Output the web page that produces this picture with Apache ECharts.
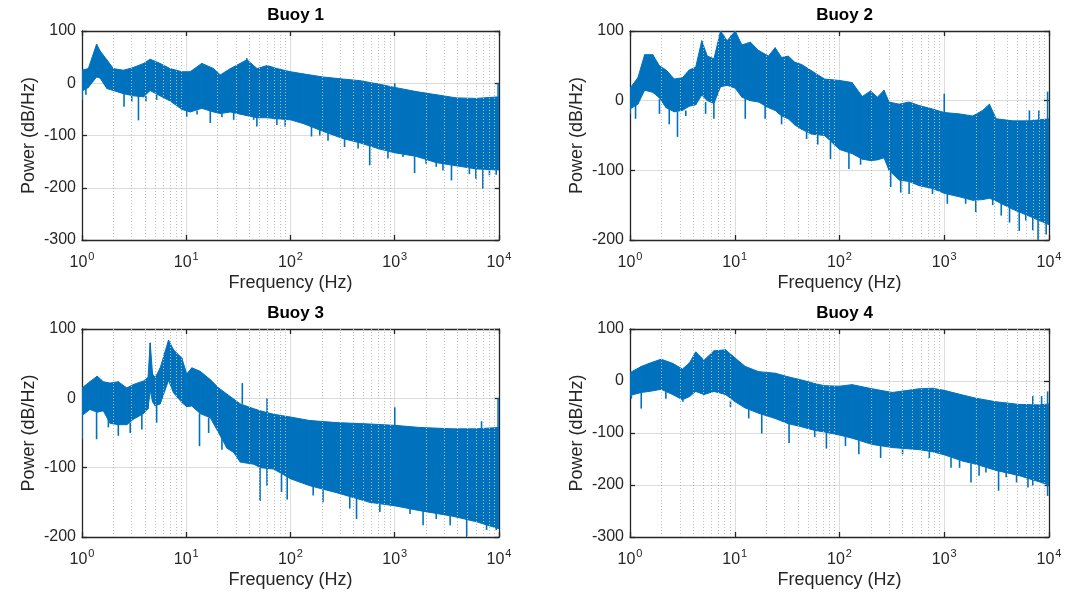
<!DOCTYPE html>
<html>
<head>
<meta charset="utf-8">
<script src="https://cdn.jsdelivr.net/npm/echarts@6/dist/echarts.min.js"></script>
<style>
  html, body { margin: 0; padding: 0; background: #ffffff; }
  #chart { width: 1084px; height: 596px; }
</style>
</head>
<body>
<div id="chart"></div>
<script>
// Power spectral density of four buoys (log frequency axis)
const panelTitles = ['Buoy 1', 'Buoy 2', 'Buoy 3', 'Buoy 4'];
const yMins = [-300, -200, -200, -300];
const yMaxs = [100, 100, 100, 100];
const freqMin = 1;
const freqMax = 10000;
const minorFreqs = [2, 3, 4, 5, 6, 7, 8, 9, 20, 30, 40, 50, 60, 70, 80, 90,
  200, 300, 400, 500, 600, 700, 800, 900, 2000, 3000, 4000, 5000, 6000, 7000, 8000, 9000];

// Buoy 1: band envelope (upper / lower edge of the spectrum) and isolated spikes [f, from, to]
const b1Freq = [1.0, 1.15, 1.38, 1.49, 1.73, 2.0, 2.5, 3.1, 3.9, 4.5, 5.6, 7.0, 9.1, 10.9, 14.1, 18.3, 21.2, 26.5, 38.3, 47.8, 59.7, 74.4, 100, 132, 205, 320, 462, 718, 1000, 1610, 2510, 3900, 6070, 10000];
const b1Upper = [25, 28, 75, 62, 45, 28, 25, 30, 38, 46, 38, 28, 22, 22, 38, 28, 16, 28, 45, 28, 34, 28, 22, 18, 12, 8, 5, -2, -8, -16, -22, -28, -29, -26];
const b1Lower = [-15, -8, 12, 10, -10, -14, -20, -24, -26, -14, -24, -34, -50, -55, -48, -55, -58, -55, -62, -66, -66, -68, -70, -77, -92, -106, -114, -126, -133, -140, -152, -158, -164, -166];
const b1Spikes = [[1.0, -10, -32], [1.09, -5, -22], [2.53, -18, -45], [3.0, -22, -35], [3.48, -24, -71], [4.1, -24, -35],
  [5.2, -22, -32], [10.1, -53, -64], [12.7, -52, -60], [17, -50, -76], [22, -58, -65], [28.5, -55, -70], [44.3, -63, -70],
  [47.6, -64, -83], [74, -68, -80], [89, -70, -83], [159, -80, -102], [191, -88, -100], [229, -95, -110],
  [330, -106, -122], [445, -113, -125], [575, -120, -157], [860, -130, -144], [1200, -135, -141], [1550, -140, -172],
  [2000, -145, -154], [2500, -152, -160], [2900, -154, -167], [3500, -156, -186], [5200, -162, -174], [6000, -163, -183],
  [7000, -165, -202], [8100, -165, -176], [9400, -166, -175],
  [38, 40, 48], [1000, -10, 0], [9800, -26, 0]];

// Buoy 2
const b2Freq = [1.0, 1.19, 1.38, 1.65, 1.91, 2.21, 2.65, 3.17, 3.67, 4.24, 4.84, 5.47, 6.33, 7.32, 8.46, 10.1, 11.7, 14.1, 16.9, 21, 24.3, 28, 32.4, 37.5, 43.4, 54, 72, 100, 132, 165, 198, 230, 266, 297, 371, 462, 576, 772, 1000, 1393, 1870, 2330, 2700, 3130, 4520, 6530, 10000];
const b2Upper = [18, 33, 66, 66, 50, 44, 31, 33, 44, 48, 86, 64, 60, 100, 86, 100, 80, 84, 72, 64, 76, 62, 64, 55, 52, 43, 31, 29, 26, 6, 14, 5, 15, -2, -5, -2, -7, -12, -17, -19, -22, -14, -5, -26, -29, -29, -26];
const b2Lower = [-12, -5, 15, 12, 4, -10, -16, -14, -8, -6, 8, 0, -4, 20, 22, 18, 5, 0, -2, -10, -14, -22, -26, -35, -41, -48, -50, -70, -76, -84, -86, -85, -82, -100, -114, -116, -122, -126, -133, -138, -143, -142, -140, -144, -156, -166, -178];
const b2Spikes = [[1.0, -12, -19], [1.13, -6, -26], [1.91, 2, -19], [2.37, -12, -34], [2.84, -16, -52], [3.41, -14, -22],
  [5.27, -2, -19], [6.32, -4, -26], [12.6, 4, -26], [19.5, -6, -26], [28, -22, -34], [48.5, -45, -55], [62, -49, -63],
  [82, -55, -84], [123, -74, -98], [159, -82, -92], [308, -102, -124], [384, -114, -132], [462, -116, -134],
  [772, -126, -134], [1070, -134, -148], [1600, -140, -148], [2000, -143, -160], [2900, -142, -150], [3500, -146, -165],
  [4200, -152, -175], [5200, -158, -187], [6000, -163, -172], [7000, -166, -186], [7860, -170, -200], [9400, -175, -192],
  [1000, -17, 10], [9700, -26, 13], [6500, -29, -14], [8000, -28, -14]];

// Buoy 3
const b3Freq = [1.0, 1.19, 1.40, 1.60, 1.86, 2.23, 2.69, 3.12, 3.89, 4.3, 4.51, 4.75, 5.04, 5.63, 6.76, 7.55, 9.08, 10.1, 11.3, 13.6, 17.0, 20.5, 24.6, 28.5, 33.0, 44.4, 51.4, 69.0, 100, 153, 276, 576, 1000, 1740, 3600, 6070, 10000];
const b3Upper = [15, 24, 32, 24, 22, 24, 15, 20, 25, 30, 80, 35, 30, 44, 84, 70, 58, 35, 44, 39, 27, 15, 6, -1, -8, -15, -18, -23, -27, -32, -35, -37, -39, -42, -44, -44, -42];
const b3Lower = [-25, -16, -20, -18, -36, -38, -38, -30, -22, -15, 12, -5, -11, -8, 26, 8, -6, -12, -11, -22, -28, -50, -72, -78, -92, -95, -100, -102, -116, -126, -136, -150, -155, -162, -170, -178, -188];
const b3Spikes = [[1.0, -25, -59], [1.38, -20, -59], [1.79, -30, -42], [2.23, -38, -54], [2.9, -35, -50], [3.75, -22, -45],
  [5.2, -11, -35], [13.4, -22, -69], [16.4, -28, -50], [22, -55, -74], [51, -100, -148], [59.5, -100, -126],
  [82, -105, -135], [93, -112, -146], [165, -128, -140], [205, -132, -150], [370, -142, -159], [430, -145, -174],
  [720, -152, -164], [1400, -158, -167], [1870, -162, -183], [2500, -166, -174], [3400, -169, -183], [4900, -170, -200],
  [7600, -182, -190], [9400, -185, -190],
  [34.5, -8, 22], [59.6, -20, 0], [1000, -39, -13], [6800, -44, -33], [9800, -42, 0]];

// Buoy 4
const b4Freq = [1.0, 1.28, 1.53, 1.98, 2.55, 3.17, 3.7, 4.24, 5.09, 6.33, 8.17, 10.1, 12.6, 16.9, 24.3, 32.4, 43.4, 58, 72, 100, 132, 205, 320, 576, 772, 1000, 1500, 2000, 3130, 5200, 8100, 10000];
const b4Upper = [16, 28, 34, 42, 34, 23, 35, 56, 40, 58, 60, 44, 28, 18, 15, 8, 2, -5, -9, -10, -7, -15, -22, -15, -14, -18, -27, -33, -40, -45, -46, -44];
const b4Lower = [-28, -22, -20, -16, -26, -36, -30, -20, -26, -20, -26, -40, -52, -62, -72, -82, -88, -95, -98, -104, -110, -122, -128, -132, -136, -142, -154, -160, -172, -182, -194, -200];
const b4Spikes = [[1.03, -28, -34], [1.28, -22, -53], [2.2, -20, -34], [3.2, -36, -40], [9.1, -38, -50], [13.6, -55, -72],
  [18.1, -62, -101], [33, -82, -119], [58, -95, -108], [75, -98, -130], [114, -107, -125], [153, -112, -141],
  [247, -125, -148], [400, -130, -141], [720, -135, -148], [1160, -145, -167], [1400, -152, -167], [1800, -158, -195],
  [2150, -162, -182], [2500, -165, -176], [3300, -172, -211], [3900, -176, -185], [4900, -180, -195], [6300, -185, -205],
  [7000, -190, -201], [9700, -200, -221],
  [9700, -44, -20], [7000, -46, -29], [8500, -46, -29]];

const panels = [
  { freq: b1Freq, upper: b1Upper, lower: b1Lower, spikes: b1Spikes },
  { freq: b2Freq, upper: b2Upper, lower: b2Lower, spikes: b2Spikes },
  { freq: b3Freq, upper: b3Upper, lower: b3Lower, spikes: b3Spikes },
  { freq: b4Freq, upper: b4Upper, lower: b4Lower, spikes: b4Spikes }
];

const LINE_BLUE = '#0072BD';
const AXIS_DARK = '#262626';
const FONT = '"Liberation Sans", Arial, Helvetica, sans-serif';

const gridBoxes = [
  { left: 82, top: 31, width: 417, height: 209 },
  { left: 630, top: 31, width: 419, height: 209 },
  { left: 82, top: 329, width: 417, height: 208 },
  { left: 630, top: 329, width: 419, height: 208 }
];

// one band segment per pair of neighbouring envelope samples: [f0, f1, hi0, lo0, hi1, lo1]
function bandSegments(p) {
  const out = [];
  for (let k = 0; k < p.freq.length - 1; k++) {
    out.push([p.freq[k], p.freq[k + 1], p.upper[k], p.lower[k], p.upper[k + 1], p.lower[k + 1]]);
  }
  return out;
}

const grids = [], xAxes = [], yAxes = [], titles = [], series = [];

gridBoxes.forEach(function (g, i) {
  grids.push({ left: g.left, top: g.top, width: g.width, height: g.height, containLabel: false });

  titles.push({
    text: panelTitles[i],
    left: g.left + g.width / 2,
    top: g.top - 29,
    textAlign: 'center',
    textStyle: { fontFamily: FONT, fontSize: 17, fontWeight: 'bold', color: '#000000' }
  });

  // bottom frequency axis with 10^n labels
  xAxes.push({
    type: 'log', logBase: 10, gridIndex: i, min: freqMin, max: freqMax, position: 'bottom',
    name: 'Frequency (Hz)', nameLocation: 'middle', nameGap: 34,
    nameTextStyle: { fontFamily: FONT, fontSize: 18, color: AXIS_DARK },
    axisLine: { show: true, onZero: false, lineStyle: { color: AXIS_DARK, width: 1.3 } },
    axisTick: { show: true, inside: true, length: 5, lineStyle: { color: AXIS_DARK, width: 1.3 } },
    axisLabel: {
      margin: 11,
      formatter: function (v) { return '{b|10}{e|' + Math.round(Math.log10(v)) + '}'; },
      rich: {
        b: { fontFamily: FONT, fontSize: 16, color: AXIS_DARK, lineHeight: 20, verticalAlign: 'bottom' },
        e: { fontFamily: FONT, fontSize: 11, color: AXIS_DARK, lineHeight: 12, verticalAlign: 'top', padding: [0, 0, 0, 1] }
      }
    },
    splitLine: { show: true, lineStyle: { color: '#dcdcdc', width: 1 } }
  });
  // top frame edge
  xAxes.push({
    type: 'log', logBase: 10, gridIndex: i, min: freqMin, max: freqMax, position: 'top',
    axisLine: { show: true, onZero: false, lineStyle: { color: AXIS_DARK, width: 1.3 } },
    axisTick: { show: true, inside: true, length: 5, lineStyle: { color: AXIS_DARK, width: 1.3 } },
    axisLabel: { show: false },
    splitLine: { show: false }
  });

  yAxes.push({
    type: 'value', gridIndex: i, min: yMins[i], max: yMaxs[i], interval: 100, position: 'left',
    name: 'Power (dB/Hz)', nameLocation: 'middle', nameGap: 44, nameRotate: 90,
    nameTextStyle: { fontFamily: FONT, fontSize: 18, color: AXIS_DARK },
    axisLine: { show: true, onZero: false, lineStyle: { color: AXIS_DARK, width: 1.3 } },
    axisTick: { show: true, inside: true, length: 5, lineStyle: { color: AXIS_DARK, width: 1.3 } },
    axisLabel: { fontFamily: FONT, fontSize: 16, color: AXIS_DARK, margin: 6 },
    splitLine: { show: true, lineStyle: { color: '#dcdcdc', width: 1 } }
  });
  // right frame edge
  yAxes.push({
    type: 'value', gridIndex: i, min: yMins[i], max: yMaxs[i], interval: 100, position: 'right',
    axisLine: { show: true, onZero: false, lineStyle: { color: AXIS_DARK, width: 1.3 } },
    axisTick: { show: true, inside: true, length: 5, lineStyle: { color: AXIS_DARK, width: 1.3 } },
    axisLabel: { show: false },
    splitLine: { show: false }
  });

  const xi = 2 * i, yi = 2 * i;
  const p = panels[i];

  // dotted minor grid at 2..9 x 10^n
  series.push({
    type: 'line', xAxisIndex: xi, yAxisIndex: yi, data: [], silent: true, z: 1,
    markLine: {
      silent: true, symbol: ['none', 'none'], label: { show: false }, animation: false,
      lineStyle: { color: '#bdbdbd', type: [1, 2], width: 1 },
      emphasis: { disabled: true },
      data: minorFreqs.map(function (f) { return { xAxis: f }; })
    }
  });

  // spectrum band between the lower and upper envelope
  series.push({
    type: 'custom', xAxisIndex: xi, yAxisIndex: yi, data: bandSegments(p), silent: true, z: 3, clip: true,
    encode: { x: [0, 1], y: [2, 3, 4, 5] },
    renderItem: function (params, api) {
      const a = api.coord([api.value(0), api.value(2)]);
      const b = api.coord([api.value(1), api.value(4)]);
      const c = api.coord([api.value(1), api.value(5)]);
      const d = api.coord([api.value(0), api.value(3)]);
      return {
        type: 'polygon',
        shape: { points: [a, b, c, d] },
        style: { fill: LINE_BLUE, stroke: LINE_BLUE, lineWidth: 1, lineJoin: 'round' }
      };
    }
  });

  // narrow spikes poking out of the band
  series.push({
    type: 'custom', xAxisIndex: xi, yAxisIndex: yi, data: p.spikes, silent: true, z: 4, clip: true,
    encode: { x: 0, y: [1, 2] },
    renderItem: function (params, api) {
      const a = api.coord([api.value(0), api.value(1)]);
      const b = api.coord([api.value(0), api.value(2)]);
      return {
        type: 'line',
        shape: { x1: a[0], y1: a[1], x2: b[0], y2: b[1] },
        style: { stroke: LINE_BLUE, lineWidth: 1.6 }
      };
    }
  });
});

const chart = echarts.init(document.getElementById('chart'), null, { renderer: 'canvas' });
chart.setOption({
  backgroundColor: '#ffffff',
  animation: false,
  title: titles,
  grid: grids,
  xAxis: xAxes,
  yAxis: yAxes,
  series: series
});
</script>
</body>
</html>
